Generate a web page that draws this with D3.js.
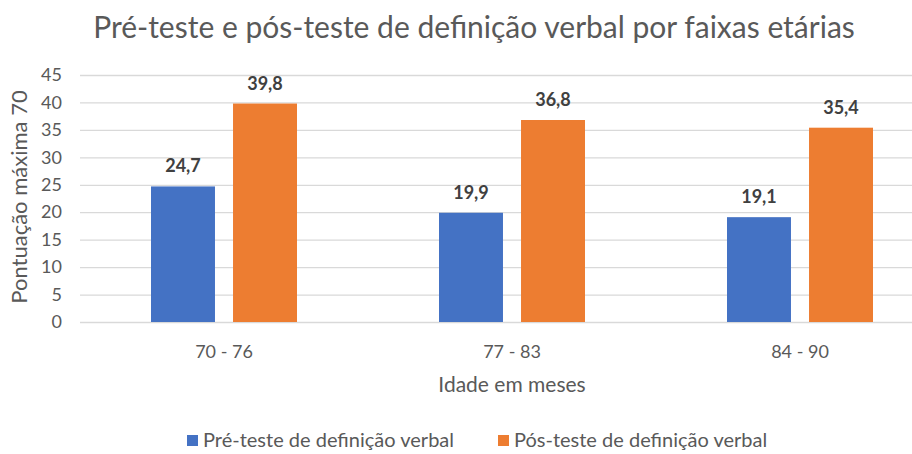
<!DOCTYPE html>
<html>
<head>
<meta charset="utf-8">
<script src="https://cdn.jsdelivr.net/npm/d3@7"></script>
<style>
  body { margin: 0; background: #fff; }
  svg { display: block; }
  text { font-family: Lato, "Open Sans", sans-serif; }
</style>
</head>
<body>
<div id="chart"></div>
<script>
// Data
var categories = ['70 - 76', '77 - 83', '84 - 90'];
var seriesNames = ['Pré-teste de definição verbal', 'Pós-teste de definição verbal'];
var preTeste = [24.7, 19.9, 19.1];
var posTeste = [39.8, 36.8, 35.4];
var yTicks = [0, 5, 10, 15, 20, 25, 30, 35, 40, 45];
var colors = ['#4472C4', '#ED7D31'];

var width = 912, height = 454;

// plot area (the original chart is cropped on the right)
var margin = { top: 75, left: 80, bottom: 322, right: 944 };

var svg = d3.select('#chart').append('svg')
    .attr('width', width)
    .attr('height', height);

var data = categories.map(function (c, i) {
    return { cat: c, values: [preTeste[i], posTeste[i]] };
});

// Scales
var x0 = d3.scaleBand().domain(categories).range([margin.left, margin.right]).padding(0);
var x1 = d3.scaleBand().domain([0, 1]).range([71, 217]).paddingInner(0.22);
var y = d3.scaleLinear().domain([0, 45]).range([margin.bottom, margin.top]);

// Gridlines
svg.append('g')
    .selectAll('line')
    .data(yTicks)
    .enter().append('line')
    .attr('x1', margin.left)
    .attr('x2', margin.right)
    .attr('y1', function (d) { return y(d) + 0.5; })
    .attr('y2', function (d) { return y(d) + 0.5; })
    .attr('stroke', '#D9D9D9')
    .attr('stroke-width', 1.3);

// Y axis labels
var yAxis = svg.append('g')
    .attr('transform', 'translate(' + margin.left + ',0)')
    .call(d3.axisLeft(y).tickValues(yTicks).tickSize(0).tickPadding(18));
yAxis.select('.domain').remove();
yAxis.selectAll('text')
    .attr('fill', '#595959')
    .style('font-size', '18px')
    .style('font-family', 'Lato, sans-serif');

// Bars
var groups = svg.selectAll('g.grp')
    .data(data)
    .enter().append('g')
    .attr('class', 'grp')
    .attr('transform', function (d) { return 'translate(' + x0(d.cat) + ',0)'; });

groups.selectAll('rect')
    .data(function (d) { return d.values; })
    .enter().append('rect')
    .attr('x', function (d, i) { return x1(i); })
    .attr('width', x1.bandwidth())
    .attr('y', function (d) { return y(d); })
    .attr('height', function (d) { return y(0) - y(d); })
    .attr('fill', function (d, i) { return colors[i]; });

// Value labels
groups.selectAll('text.val')
    .data(function (d) { return d.values; })
    .enter().append('text')
    .attr('class', 'val')
    .attr('x', function (d, i) { return x1(i) + x1.bandwidth() / 2; })
    .attr('y', function (d) { return y(d) - 14; })
    .attr('text-anchor', 'middle')
    .attr('fill', '#404040')
    .style('font-size', '18px')
    .style('font-weight', 'bold')
    .text(function (d) { return String(d).replace('.', ','); });

// X axis category labels
var xAxis = svg.append('g')
    .attr('transform', 'translate(0,' + margin.bottom + ')')
    .call(d3.axisBottom(x0).tickSize(0).tickPadding(23));
xAxis.select('.domain').remove();
xAxis.selectAll('text')
    .attr('fill', '#595959')
    .style('font-size', '18px')
    .style('font-family', 'Lato, sans-serif');

// Axis titles
svg.append('text')
    .attr('x', (margin.left + margin.right) / 2)
    .attr('y', 392)
    .attr('text-anchor', 'middle')
    .attr('fill', '#595959')
    .style('font-size', '21px')
    .text('Idade em meses');

svg.append('text')
    .attr('transform', 'translate(27,197) rotate(-90)')
    .attr('text-anchor', 'middle')
    .attr('fill', '#595959')
    .style('font-size', '22px')
    .text('Pontuação máxima 70');

// Title
svg.append('text')
    .attr('x', 474)
    .attr('y', 38)
    .attr('text-anchor', 'middle')
    .attr('fill', '#595959')
    .style('font-size', '30px')
    .text('Pré-teste e pós-teste de definição verbal por faixas etárias');

// Legend
var legendX = [187, 498];
var legend = svg.selectAll('g.leg')
    .data(seriesNames)
    .enter().append('g')
    .attr('class', 'leg')
    .attr('transform', function (d, i) { return 'translate(' + legendX[i] + ',447)'; });

legend.append('rect')
    .attr('x', 0)
    .attr('y', -12)
    .attr('width', 11)
    .attr('height', 11)
    .attr('fill', function (d, i) { return colors[i]; });

legend.append('text')
    .attr('x', 16)
    .attr('y', 0)
    .attr('fill', '#595959')
    .style('font-size', '20px')
    .text(function (d) { return d; });
</script>
</body>
</html>
